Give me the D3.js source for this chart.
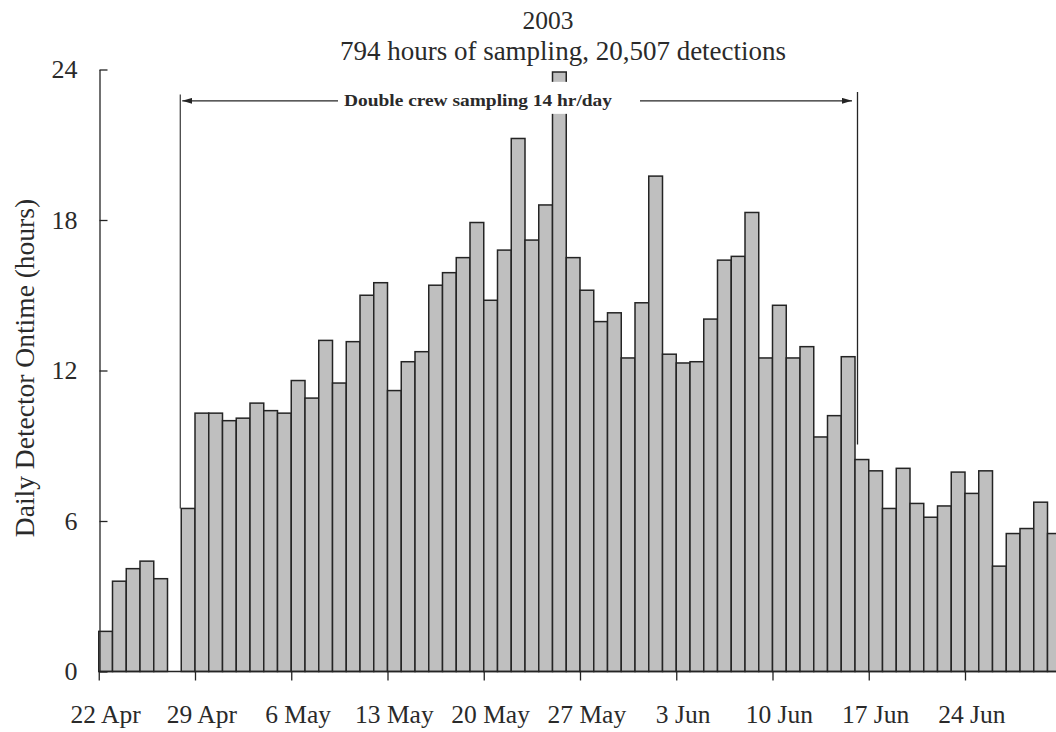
<!DOCTYPE html>
<html>
<head>
<meta charset="utf-8">
<script src="https://cdn.jsdelivr.net/npm/d3@7"></script>
<style>
  html, body { margin: 0; padding: 0; background: #fff; overflow: hidden; }
  svg { display: block; }
  text { font-family: "Liberation Serif", "Times New Roman", serif; fill: #2a2a2a; }
</style>
</head>
<body>
<svg id="chart" width="1056" height="732"></svg>
<script>
// Daily detector ontime, 22 April – 30 June 2003 (hours per day; null = no sampling)
const seasonStart = Date.UTC(2003, 3, 22);
const seasonEnd = Date.UTC(2003, 6, 1);
const ontime = [
  1.6, 3.6, 4.1, 4.4, 3.7, null, 6.5,            // 22–28 Apr
  10.3, 10.3, 10.0, 10.1, 10.7, 10.4, 10.3,      // 29 Apr – 5 May
  11.6, 10.9, 13.2, 11.5, 13.15, 15.0, 15.5,     // 6–12 May
  11.2, 12.35, 12.75, 15.4, 15.9, 16.5, 17.9,    // 13–19 May
  14.8, 16.8, 21.25, 17.2, 18.6, 23.9, 16.5,     // 20–26 May
  15.2, 13.95, 14.3, 12.5, 14.7, 19.75, 12.65,   // 27 May – 2 Jun
  12.3, 12.35, 14.05, 16.4, 16.55, 18.3, 12.5,   // 3–9 Jun
  14.6, 12.5, 12.95, 9.35, 10.2, 12.55, 8.45,    // 10–16 Jun
  8.0, 6.5, 8.1, 6.7, 6.15, 6.6, 7.95,           // 17–23 Jun
  7.1, 8.0, 4.2, 5.5, 5.7, 6.75, 5.5             // 24–30 Jun
];
const yTicks = [0, 6, 12, 18, 24];
const xTickLabels = ["22 Apr", "29 Apr", "6 May", "13 May", "20 May", "27 May", "3 Jun", "10 Jun", "17 Jun", "24 Jun"];

// Double-crew period (14 hr/day sampling)
const doubleCrewStart = Date.UTC(2003, 3, 28);
const doubleCrewEnd = Date.UTC(2003, 5, 16);

const titleLines = ["2003", "794 hours of sampling, 20,507 detections"];
const yTitle = "Daily Detector Ontime (hours)";
const noteText = "Double crew sampling 14 hr/day";

const days = d3.utcDay.range(new Date(seasonStart), new Date(seasonEnd));
const data = days.map((d, i) => ({ day: d, value: ontime[i] }));

const svg = d3.select("#chart");
const plotLeft = 98.75, dayWidth = 13.75;

const x = d3.scaleUtc()
  .domain([new Date(seasonStart), new Date(seasonEnd)])
  .range([plotLeft, plotLeft + days.length * dayWidth]);

const y = d3.scaleLinear().domain([0, 24]).range([671.5, 69.5]);

const ink = "#242424";

// bars
svg.append("g")
  .selectAll("rect")
  .data(data.filter(d => d.value != null))
  .join("rect")
  .attr("x", d => x(d.day))
  .attr("y", d => y(d.value))
  .attr("width", d => x(d3.utcDay.offset(d.day, 1)) - x(d.day))
  .attr("height", d => y(0) - y(d.value))
  .attr("fill", "#bfbfbf")
  .attr("stroke", ink)
  .attr("stroke-width", 1.5);

// x axis: ticks at week boundaries, labels centred on the day
const weekStarts = xTickLabels.map((_, i) => d3.utcDay.offset(new Date(seasonStart), 7 * i));
const xAxis = svg.append("g")
  .attr("transform", `translate(0,${y(0)})`)
  .call(d3.axisBottom(x).tickValues(weekStarts).tickSizeInner(9).tickSizeOuter(0).tickFormat(""));
xAxis.select(".domain").attr("stroke", ink).attr("stroke-width", 1.4)
  .attr("d", `M${plotLeft},0H1056`);
xAxis.selectAll(".tick line").attr("stroke", ink).attr("stroke-width", 1.3);

svg.append("g")
  .selectAll("text")
  .data(weekStarts)
  .join("text")
  .attr("x", (d) => (x(d) + x(d3.utcDay.offset(d, 1))) / 2)
  .attr("y", 723)
  .attr("text-anchor", "middle")
  .attr("font-size", 25.5)
  .text((d, i) => xTickLabels[i]);

// y axis with inward ticks
const yAxis = svg.append("g")
  .attr("transform", `translate(${plotLeft + 0.75},0)`)
  .call(d3.axisLeft(y).tickValues(yTicks).tickSizeInner(-8).tickSizeOuter(0).tickPadding(22));
yAxis.select(".domain").attr("stroke", ink).attr("stroke-width", 1.3);
yAxis.selectAll(".tick line").attr("stroke", ink).attr("stroke-width", 1.3);
yAxis.selectAll(".tick text")
  .attr("font-family", "Liberation Serif, serif")
  .attr("font-size", 26)
  .attr("fill", ink);

// axis title
svg.append("text")
  .attr("transform", "translate(33.5,368) rotate(-90)")
  .attr("text-anchor", "middle")
  .attr("font-size", 27.5)
  .text(yTitle);

// titles
svg.append("text")
  .attr("x", 548).attr("y", 29)
  .attr("text-anchor", "middle")
  .attr("font-size", 25.5)
  .text(titleLines[0]);
svg.append("text")
  .attr("x", 563).attr("y", 60)
  .attr("text-anchor", "middle")
  .attr("font-size", 27)
  .text(titleLines[1]);

// double-crew bracket
const defs = svg.append("defs");
defs.append("marker")
  .attr("id", "head")
  .attr("viewBox", "0 0 10 6")
  .attr("refX", 10).attr("refY", 3)
  .attr("markerWidth", 10).attr("markerHeight", 6)
  .attr("markerUnits", "userSpaceOnUse")
  .attr("orient", "auto")
  .append("path")
  .attr("d", "M0,0L10,3L0,6Z")
  .attr("fill", ink);

const xs = x(new Date(doubleCrewStart)) - 1;
const xe = x(new Date(doubleCrewEnd)) + 2.5;
const startValue = ontime[d3.utcDay.count(new Date(seasonStart), new Date(doubleCrewStart))];
const arrowY = y(22.75);

svg.append("line")
  .attr("x1", xs).attr("x2", xs)
  .attr("y1", y(23)).attr("y2", y(startValue))
  .attr("stroke", ink).attr("stroke-width", 1.1);
svg.append("line")
  .attr("x1", xe).attr("x2", xe)
  .attr("y1", y(23.1)).attr("y2", y(9.05))
  .attr("stroke", ink).attr("stroke-width", 1.3);

const noteX = 478;
svg.append("line")
  .attr("x1", 338).attr("x2", xs + 2)
  .attr("y1", arrowY).attr("y2", arrowY)
  .attr("stroke", ink).attr("stroke-width", 1.2)
  .attr("marker-end", "url(#head)");
svg.append("line")
  .attr("x1", 640).attr("x2", xe - 5.5)
  .attr("y1", arrowY).attr("y2", arrowY)
  .attr("stroke", ink).attr("stroke-width", 1.2)
  .attr("marker-end", "url(#head)");

// white label box that masks the bars behind the note
svg.append("rect")
  .attr("x", noteX - 140).attr("y", arrowY - 19)
  .attr("width", 280).attr("height", 32)
  .attr("fill", "#fff");

svg.append("text")
  .attr("x", noteX).attr("y", arrowY + 5.5)
  .attr("text-anchor", "middle")
  .attr("font-size", 17)
  .attr("font-weight", "bold")
  .attr("textLength", 268)
  .attr("lengthAdjust", "spacingAndGlyphs")
  .text(noteText);
</script>
</body>
</html>
